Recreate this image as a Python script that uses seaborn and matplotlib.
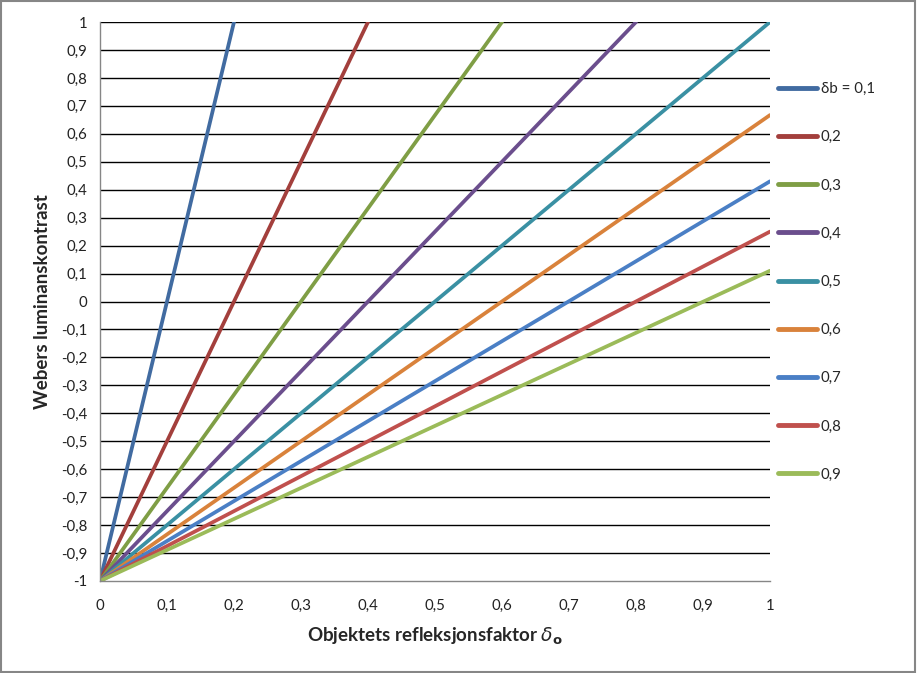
import matplotlib
matplotlib.use("Agg")
import matplotlib.pyplot as plt
import seaborn as sns
import pandas as pd
import numpy as np
from matplotlib.patches import Rectangle

# Series: background reflectance (δb) and the two read-off end points of each straight line
series_labels = ["δb = 0,1", "0,2", "0,3", "0,4", "0,5", "0,6", "0,7", "0,8", "0,9"]
x_start = [0.0, 0.0, 0.0, 0.0, 0.0, 0.0, 0.0, 0.0, 0.0]
y_start = [-1.0, -1.0, -1.0, -1.0, -1.0, -1.0, -1.0, -1.0, -1.0]
x_end = [0.2, 0.4, 0.6, 0.8, 1.0, 1.0, 1.0, 1.0, 1.0]
y_end = [1.0, 1.0, 1.0, 1.0, 1.0, 0.667, 0.43, 0.25, 0.11]

colors = ["#416BA1", "#A33F3C", "#7F9E45", "#6B4E8D", "#3A90A3",
          "#D9823B", "#4A7FC5", "#C0504D", "#9BBB59"]

x_ticks = [0, 0.1, 0.2, 0.3, 0.4, 0.5, 0.6, 0.7, 0.8, 0.9, 1]
x_tick_labels = ["0", "0,1", "0,2", "0,3", "0,4", "0,5", "0,6", "0,7", "0,8", "0,9", "1"]
y_ticks = [-1, -0.9, -0.8, -0.7, -0.6, -0.5, -0.4, -0.3, -0.2, -0.1, 0,
           0.1, 0.2, 0.3, 0.4, 0.5, 0.6, 0.7, 0.8, 0.9, 1]
y_tick_labels = ["-1", "-0,9", "-0,8", "-0,7", "-0,6", "-0,5", "-0,4", "-0,3", "-0,2", "-0,1", "0",
                 "0,1", "0,2", "0,3", "0,4", "0,5", "0,6", "0,7", "0,8", "0,9", "1"]

rows = []
for lab, xs, ys, xe, ye in zip(series_labels, x_start, y_start, x_end, y_end):
    rows.append({"x": xs, "y": ys, "serie": lab})
    rows.append({"x": xe, "y": ye, "serie": lab})
df = pd.DataFrame(rows)

sns.set_style("white")
plt.rcParams["font.family"] = ["Lato", "DejaVu Sans"]

fig = plt.figure(figsize=(9.17, 6.73), dpi=100)
ax = fig.add_axes([100 / 917, 1 - 581 / 673, 670 / 917, 559 / 673])

sns.lineplot(data=df, x="x", y="y", hue="serie", hue_order=series_labels,
             palette=colors, sort=False, estimator=None,
             linewidth=2.7, ax=ax, legend=True)

ax.set_xlim(0, 1)
ax.set_ylim(-1, 1)
ax.set_xticks(x_ticks)
ax.set_xticklabels(x_tick_labels, fontsize=10.8, color="#222222")
ax.set_yticks(y_ticks)
ax.set_yticklabels(y_tick_labels, fontsize=10.8, color="#222222")
ax.tick_params(axis="both", direction="out", length=5, width=1, color="#868686", pad=4)
ax.tick_params(axis="x", pad=8)

for yv in y_ticks[1:]:
    ax.axhline(yv, color="black", linewidth=1.0, zorder=0)

for s in ["top", "right"]:
    ax.spines[s].set_visible(False)
for s in ["left", "bottom"]:
    ax.spines[s].set_color("#868686")
    ax.spines[s].set_linewidth(1.0)

ax.set_xlabel(r"Objektets refleksjonsfaktor $\delta_{\mathbf{o}}$", fontsize=13.5,
              fontweight="bold", labelpad=9)
ax.set_ylabel("Webers luminanskontrast", fontsize=13.5, fontweight="bold", labelpad=7)

handles, labels = ax.get_legend_handles_labels()
ax.get_legend().remove()
leg = fig.legend(handles, labels, loc="upper left",
                 bbox_to_anchor=(778 / 917, 1 - 82 / 673), frameon=False,
                 fontsize=10.8, handlelength=2.6, handletextpad=0.25,
                 labelspacing=2.28, borderaxespad=0, borderpad=0)
for h in leg.get_lines():
    h.set_linewidth(3.5)

fig.patches.append(Rectangle((0.0015, 0.002), 0.996, 0.996, transform=fig.transFigure,
                             fill=False, edgecolor="#868686", linewidth=1.5))

fig.savefig("out.png", dpi=100)
